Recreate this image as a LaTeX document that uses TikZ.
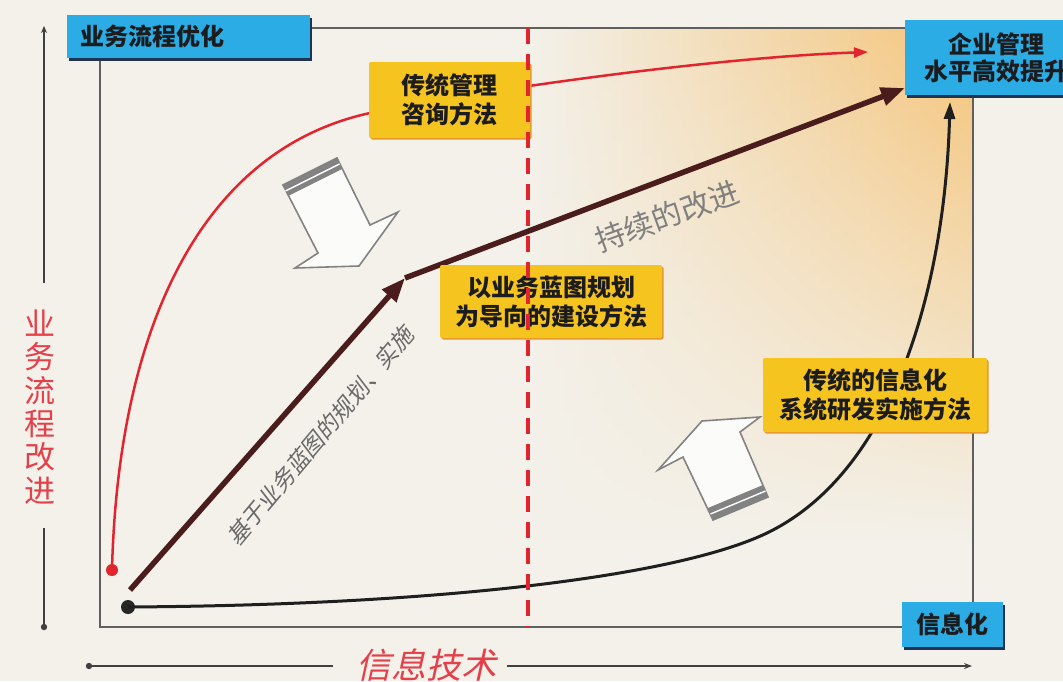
\documentclass[tikz,border=0pt]{standalone}
\usepackage{fontspec}
\setmainfont{Noto Sans CJK SC}
\newfontfamily\slantcjk{Noto Sans CJK SC}[FakeSlant=0.22]
\usetikzlibrary{arrows.meta,shadows,fadings,calc}
\definecolor{bg}{RGB}{243,241,234}
\definecolor{orng}{RGB}{245,196,120}
\definecolor{blueC}{RGB}{43,172,228}
\definecolor{blueSh}{RGB}{30,52,80}
\definecolor{yelC}{RGB}{246,196,30}
\definecolor{yelSh}{RGB}{228,150,45}
\definecolor{redC}{RGB}{226,36,46}
\definecolor{redT}{RGB}{229,64,74}
\definecolor{brownC}{RGB}{75,28,28}
\definecolor{txtD}{RGB}{28,28,30}
\definecolor{frameC}{RGB}{95,95,95}
\definecolor{grayT}{RGB}{105,105,105}
\definecolor{arrowG}{RGB}{130,130,130}
\begin{document}
\begin{tikzpicture}[x=1pt,y=-1pt,
  bluebox/.style={fill=blueC, text=txtD, inner sep=0pt, align=center,
    font=\bfseries\fontsize{24}{27}\selectfont,
    general shadow={fill=blueSh, shadow xshift=2pt, shadow yshift=-2.5pt}},
  yelbox/.style={fill=yelC, text=txtD, inner sep=0pt, align=center, rounded corners=2pt,
    font=\bfseries\fontsize{24}{29}\selectfont,
    general shadow={fill=yelSh, shadow xshift=1.5pt, shadow yshift=-1.5pt}},
  frameline/.style={draw=frameC, line width=1.5pt},
  axisline/.style={draw=black!75, line width=1.6pt},
  redline/.style={draw=redC, line width=2.5pt, -{Triangle[length=14pt,width=10pt]}},
  blackline/.style={draw=black!88, line width=3pt, -{Triangle[length=17pt,width=11pt]}},
  brownline/.style={draw=brownC, line width=5.5pt, -{Triangle[length=24pt,width=18pt]}},
  dashline/.style={draw=redC, line width=4pt, dash pattern=on 16pt off 10pt},
  hollow/.style={draw=arrowG, line width=1.6pt, fill=white!70!bg, line join=miter},
  stripe/.style={fill=arrowG},
  slanttext/.style={text=grayT, inner sep=0pt},
]
\useasboundingbox (0,0) rectangle (1063,681);
\fill[bg] (0,0) rectangle (1063,681);

% orange gradient region (strong at top right)
\shade[left color=bg, right color=orng, path fading=south] (528,28) rectangle (973,540);

% frame
\draw[frameline] (100,28) rectangle (973,627);

% axes
\coordinate (ytop) at (44,26);
\coordinate (yup) at (44,283);
\coordinate (ylow) at (44,528);
\coordinate (ybot) at (44,627);
\coordinate (xleft) at (89,666);
\coordinate (xl2) at (333,666);
\coordinate (xr1) at (507,666);
\coordinate (xright) at (972,666);
\draw[axisline, -{Stealth[length=7pt,width=6pt]}] (yup) -- (ytop);
\draw[axisline] (ylow) -- (ybot);
\fill[black!75] (ybot) circle (3.2pt);
\draw[axisline] (xleft) -- (xl2);
\fill[black!75] (xleft) circle (3.2pt);
\draw[axisline, -{Stealth[length=8pt,width=6pt]}] (xr1) -- (xright);

\node[text=redT, align=center, inner sep=0pt, font=\fontsize{31}{33.3}\selectfont] (ylab) at (40,407) {业\\务\\流\\程\\改\\进};
\node[text=redT, inner sep=0pt, font=\slantcjk\fontsize{35}{38}\selectfont] (xlab) at (426,665) {信息技术};

% dots
\node[circle, fill=redC, minimum size=12pt, inner sep=0pt] (rdot) at (112,570) {};
\node[circle, fill=black!85, minimum size=14pt, inner sep=0pt] (bdot) at (128,607) {};

% red curve
\coordinate (rmid) at (370,113);
\coordinate (rend) at (868,52);
\draw[redline] (rdot.center) .. controls (118,330) and (200,150) .. (rmid)
  .. controls (450,95.6) and (700,58) .. (rend);

% black curve
\coordinate (kmid) at (767,533);
\coordinate (kend) at (950,102);
\draw[blackline] (bdot.center) .. controls (450,605) and (680,575) .. (kmid)
  .. controls (897,470) and (945,280) .. (kend);

% brown arrows
\coordinate (b0) at (130,590);
\coordinate (b1) at (405,278);
\coordinate (b2) at (905,88);
\draw[brownline] (b0) -- (b1);
\draw[brownline] (b1) -- (b2);

% hollow arrow 1 (down-right)
\draw[hollow] (283,185) -- (337,158) -- (370,225) -- (398,212) -- (359,266) -- (295,268) -- (318,253) -- cycle;
\fill[stripe] (283,185) -- (337,158) -- (342,169) -- (288,196) -- cycle;
\draw[white, line width=1.4pt] (285.5,191) -- (339.5,164);

% hollow arrow 2 (up-left)
\draw[hollow] (713,520) -- (768,497) -- (740,432) -- (760,417) -- (702,421) -- (658,470) -- (683,457) -- cycle;
\fill[stripe] (713,520) -- (768,497) -- (763,485) -- (708,508) -- cycle;
\draw[white, line width=1.4pt] (710.5,514) -- (765.5,491);

% blue boxes
\node[bluebox, minimum width=243pt, minimum height=43pt, text width=217pt, inner xsep=13pt, align=left] (bp) at (188.5,36.5) {业务流程优化};
\node[bluebox, minimum width=182pt, minimum height=75pt] (topbox) at (996,57.5) {企业管理\\水平高效提升};
\node[bluebox, minimum width=101pt, minimum height=45pt] (info) at (952.5,624.5) {信息化};

% yellow boxes
\node[yelbox, minimum width=161pt, minimum height=76pt] (y1) at (449.5,100) {传统管理\\咨询方法};
\node[yelbox, minimum width=222pt, minimum height=73pt] (y2) at (551,301.5) {以业务蓝图规划\\为导向的建设方法};
\node[yelbox, minimum width=224pt, minimum height=74pt] (y3) at (875,395) {传统的信息化\\系统研发实施方法};

% dashed divider
\coordinate (dtop) at (528,28);
\coordinate (dbot) at (528,627);
\draw[dashline] (dtop) -- (dbot);

% rotated texts
\node[slanttext, rotate=50, font=\slantcjk\fontsize{23}{25}\selectfont] (t1) at (320,436) {基于业务蓝图的规划、实施};
\node[slanttext, rotate=20, font=\fontsize{30}{32}\selectfont, text=grayT!85] (t2) at (667,216) {持续的改进};
\end{tikzpicture}
\end{document}
